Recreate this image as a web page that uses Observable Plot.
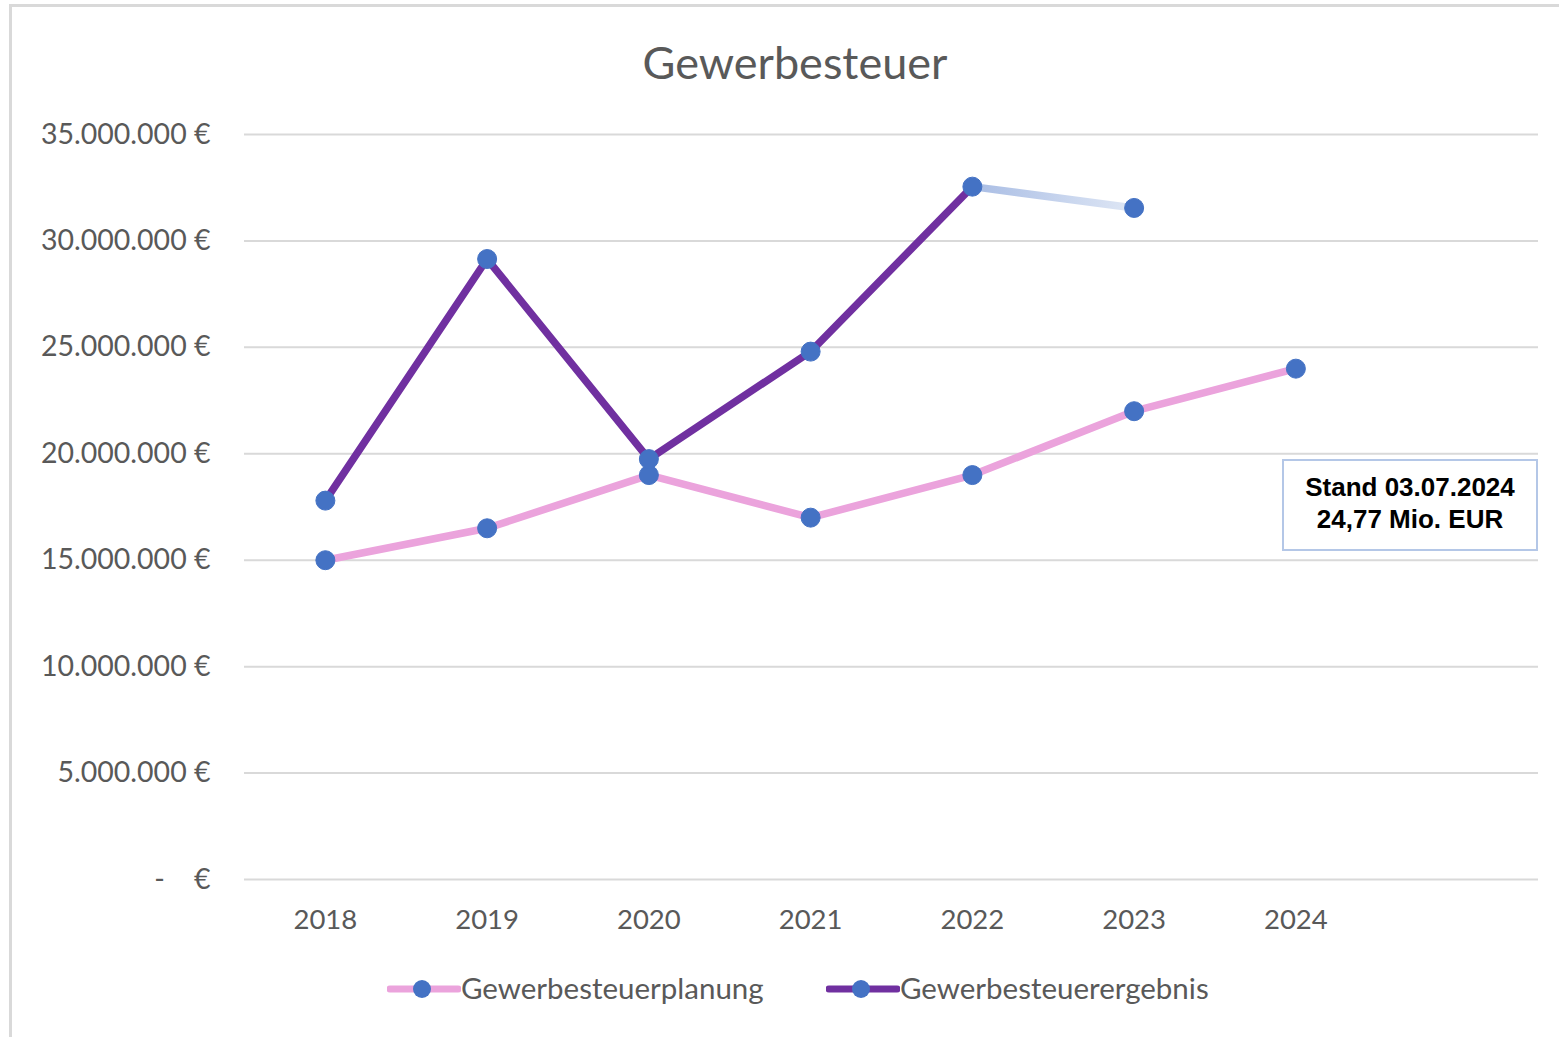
<!DOCTYPE html>
<html>
<head>
<meta charset="utf-8">
<script src="https://cdn.jsdelivr.net/npm/d3@7"></script>
<script src="https://cdn.jsdelivr.net/npm/@observablehq/plot@0.6"></script>
<style>
  html, body { margin: 0; padding: 0; background: #fff; }
  #frame { position: absolute; left: 0; top: 0; width: 1559px; height: 1037px; overflow: hidden; font-family: Lato, "Open Sans", sans-serif; }
  #border { position: absolute; left: 9px; top: 4px; width: 1560px; height: 1040px; border-left: 3px solid #d9d9d9; border-top: 3px solid #d9d9d9; box-sizing: border-box; }
  #title { position: absolute; left: 0; width: 1590px; top: 35px; text-align: center; font-size: 45px; color: #595959; }
  #chart { position: absolute; left: 0; top: 100px; }
  #note { position: absolute; left: 1282px; top: 459px; width: 256px; height: 92px; border: 2px solid #b4c7e7; box-sizing: border-box; font-family: "Liberation Sans", Arial, sans-serif; font-weight: bold; font-size: 26px; line-height: 32px; text-align: center; padding-top: 10px; color: #000; background: #fff; }
  #legend { position: absolute; top: 967px; left: 0; height: 40px; }
  .lg { position: absolute; top: 0; display: flex; align-items: center; font-size: 29.5px; color: #595959; }
</style>
</head>
<body>
<div id="frame">
  <div id="border"></div>
  <div id="title">Gewerbesteuer</div>
  <div id="chart"></div>
  <div id="note">Stand 03.07.2024<br>24,77 Mio. EUR</div>
  <div id="legend"></div>
</div>
<script>
const years = [2018, 2019, 2020, 2021, 2022, 2023, 2024];
const planung = [15000000, 16500000, 19000000, 17000000, 19000000, 22000000, 24000000];
const ergebnisYears = [2018, 2019, 2020, 2021, 2022, 2023];
const ergebnis = [17800000, 29150000, 19750000, 24800000, 32550000, 31550000];
const yTicks = [0, 5000000, 10000000, 15000000, 20000000, 25000000, 30000000, 35000000];
const seriesNames = ["Gewerbesteuerplanung", "Gewerbesteuerergebnis"];

const colPlan = "#eba3dc";
const colErg = "#7030a0";
const colDot = "#4472c4";

const planData = years.map((y, i) => ({year: y, value: planung[i]}));
const ergData = ergebnisYears.map((y, i) => ({year: y, value: ergebnis[i]}));
const ergMain = ergData.filter(d => d.year <= 2022);
const ergLast = ergData.filter(d => d.year >= 2022);

const fmt = d => d === 0 ? "-    €" : d3.format(",")(d).replace(/,/g, ".") + " €";

const chart = Plot.plot({
  width: 1559,
  height: 840,
  marginTop: 34,
  marginBottom: 61,
  marginLeft: 244,
  marginRight: 21,
  style: {fontFamily: "Lato, 'Open Sans', sans-serif", background: "transparent"},
  x: {domain: [2017.5, 2025.5], ticks: years, tickFormat: d => String(d), tickSize: 0, tickPadding: 30, label: null},
  y: {domain: [0, 35000000], ticks: yTicks, tickFormat: fmt, tickSize: 0, tickPadding: 34, label: null},
  marks: [
    Plot.gridY(yTicks, {stroke: "#d9d9d9", strokeOpacity: 1, strokeWidth: 2}),
    Plot.axisX({ticks: years, tickFormat: d => String(d), tickSize: 0, tickPadding: 30, fontSize: 27.5, fill: "#595959"}),
    Plot.axisY({ticks: yTicks, tickFormat: fmt, tickSize: 0, tickPadding: 34, fontSize: 28.5, fill: "#595959"}),
    Plot.line(planData, {x: "year", y: "value", stroke: colPlan, strokeWidth: 7.5}),
    Plot.line(ergMain, {x: "year", y: "value", stroke: colErg, strokeWidth: 7.5}),
    Plot.line(ergLast, {x: "year", y: "value", stroke: "url(#fadeGrad)", strokeWidth: 7.5}),
    Plot.dot(planData, {x: "year", y: "value", r: 9.5, fill: colDot, stroke: colDot, strokeWidth: 1}),
    Plot.dot(ergData, {x: "year", y: "value", r: 9.5, fill: colDot, stroke: colDot, strokeWidth: 1})
  ]
});

const svg = d3.select(chart);
const defs = svg.insert("defs", ":first-child");
const g = defs.append("linearGradient").attr("id", "fadeGrad").attr("x1", "0%").attr("x2", "100%").attr("y1", "0%").attr("y2", "0%");
g.append("stop").attr("offset", "0%").attr("stop-color", "#a9bde4");
g.append("stop").attr("offset", "100%").attr("stop-color", "#dfe7f5");
svg.selectAll("[aria-label='y-axis tick label'] text").attr("text-anchor", "end");
svg.selectAll("text").style("white-space", "pre");

document.getElementById("chart").appendChild(chart);

// legend
const legend = document.getElementById("legend");
const legendPos = [387, 826];
const legendCols = [colPlan, colErg];
seriesNames.forEach((name, i) => {
  const item = document.createElement("div");
  item.className = "lg";
  item.style.left = legendPos[i] + "px";
  item.innerHTML = `<svg width="74" height="40"><line x1="3" x2="71" y1="22" y2="22" stroke="${legendCols[i]}" stroke-width="7" stroke-linecap="round"/><circle cx="35" cy="22" r="9" fill="${colDot}"/></svg><span>${name}</span>`;
  legend.appendChild(item);
});
</script>
</body>
</html>
